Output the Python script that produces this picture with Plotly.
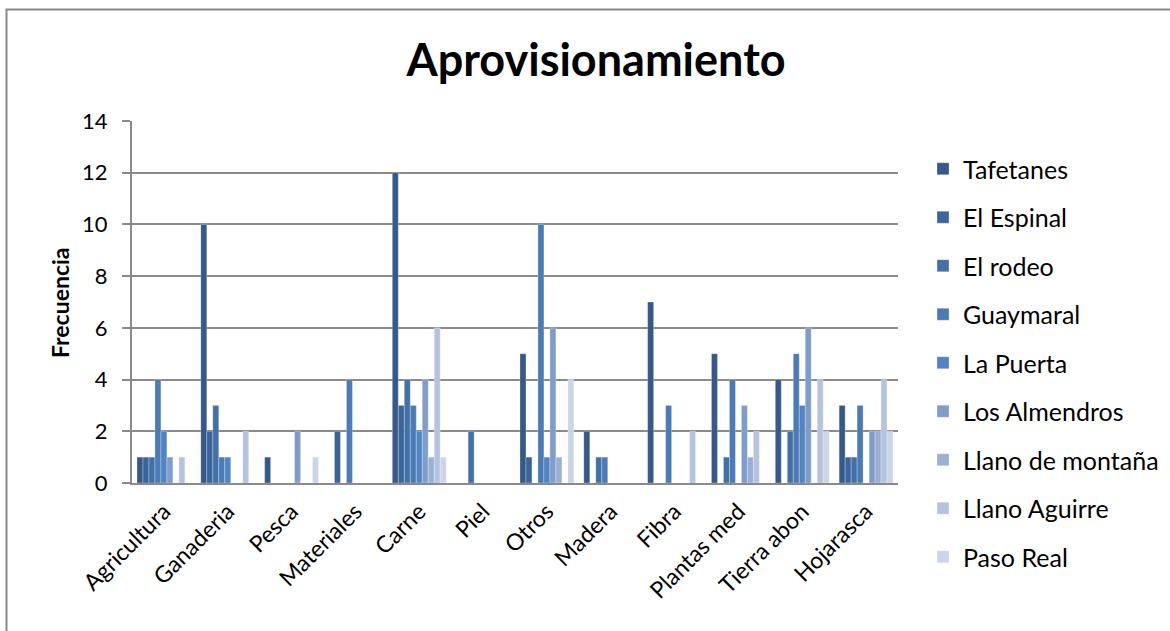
import plotly.graph_objects as go

# Categories of provisioning services
categorias = ["Agricultura", "Ganaderia", "Pesca", "Materiales", "Carne", "Piel",
              "Otros", "Madera", "Fibra", "Plantas med", "Tierra abon", "Hojarasca"]

# Frequency per locality (one list per series, aligned with categorias)
tafetanes        = [1, 10, 1, 0, 12, 0, 5, 2, 7, 5, 4, 3]
el_espinal       = [1, 2, 0, 2, 3, 0, 1, 0, 0, 0, 0, 1]
el_rodeo         = [1, 3, 0, 0, 4, 2, 0, 1, 0, 1, 2, 1]
guaymaral        = [4, 1, 0, 4, 3, 0, 10, 1, 3, 4, 5, 3]
la_puerta        = [2, 1, 0, 0, 2, 0, 1, 0, 0, 0, 3, 0]
los_almendros    = [1, 0, 2, 0, 4, 0, 6, 0, 0, 3, 6, 2]
llano_de_montana = [0, 0, 0, 0, 1, 0, 1, 0, 0, 1, 0, 2]
llano_aguirre    = [1, 2, 0, 0, 6, 0, 0, 0, 2, 2, 4, 4]
paso_real        = [0, 0, 1, 0, 1, 0, 4, 0, 0, 0, 2, 2]

series_nombres = ["Tafetanes", "El Espinal", "El rodeo", "Guaymaral", "La Puerta",
                  "Los Almendros", "Llano de montaña", "Llano Aguirre", "Paso Real"]
series_valores = [tafetanes, el_espinal, el_rodeo, guaymaral, la_puerta,
                  los_almendros, llano_de_montana, llano_aguirre, paso_real]
colores = ["#35598a", "#3b649a", "#4270a8", "#4a7bb6", "#5084c3",
           "#7f9dca", "#9aafd4", "#b4c4e0", "#cbd5e8"]

FONT = "Lato, 'Open Sans', sans-serif"
GRID = "#8a8a8a"

fig = go.Figure()
for i, (nombre, vals, col) in enumerate(zip(series_nombres, series_valores, colores)):
    fig.add_trace(go.Bar(
        x=categorias, y=vals, name=nombre, legendgroup=f"g{i}",
        marker=dict(color=col, line=dict(color="rgba(255,255,255,0.45)", width=0.6)),
    ))

# Layout geometry: plot area from x=132 to 898 px, y=121 to 483 px
W, H = 1170, 631
L, R, T, B = 132, 898, 121, 483
pw, ph = R - L, B - T

def px_x(x):
    return (x - L) / pw

def px_y(y):
    return (B - y) / ph

fig.update_layout(
    width=W, height=H,
    margin=dict(l=L, r=W - R, t=T, b=H - B, pad=0, autoexpand=False),
    paper_bgcolor="white", plot_bgcolor="white",
    barmode="group", bargap=0.156, bargroupgap=0,
    font=dict(family=FONT, color="#000000", size=22),
    title=dict(text="<b>Aprovisionamiento</b>", x=596 / W, xanchor="center",
               y=1 - 60 / H, yanchor="middle",
               font=dict(family=FONT, size=45, color="#000000")),
    legend=dict(x=px_x(923), y=px_y(146), xanchor="left", yanchor="top",
                font=dict(family=FONT, size=25, color="#000000"),
                tracegroupgap=13, itemwidth=30, bgcolor="rgba(0,0,0,0)",
                maxheight=600),
    showlegend=True,
)

fig.update_xaxes(
    showline=True, linecolor=GRID, linewidth=2, ticks="", tickangle=-45,
    tickfont=dict(family=FONT, size=23, color="#000000"), showgrid=False,
    ticklabelstandoff=4,
)
fig.update_yaxes(
    range=[0, 14], dtick=2, showgrid=True, gridcolor=GRID, gridwidth=2,
    showline=True, linecolor=GRID, linewidth=2, zeroline=False,
    ticks="outside", ticklen=8, tickcolor=GRID, tickwidth=2,
    tickfont=dict(family=FONT, size=22, color="#000000"),
    ticklabelstandoff=10,
)

# Vertical axis title
fig.add_annotation(text="<b>Frecuencia</b>", xref="paper", yref="paper",
                   x=px_x(60), y=px_y(303), textangle=-90, showarrow=False,
                   xanchor="center", yanchor="middle",
                   font=dict(family=FONT, size=23, color="#000000"))

# Chart frame (left and top edges visible)
fig.add_shape(type="path", xref="paper", yref="paper",
              path=f"M {px_x(6.5)} {px_y(H + 5)} L {px_x(6.5)} {px_y(9.5)} L {px_x(W + 5)} {px_y(9.5)}",
              line=dict(color="#878787", width=2), layer="below")

fig.write_html("out.html")
